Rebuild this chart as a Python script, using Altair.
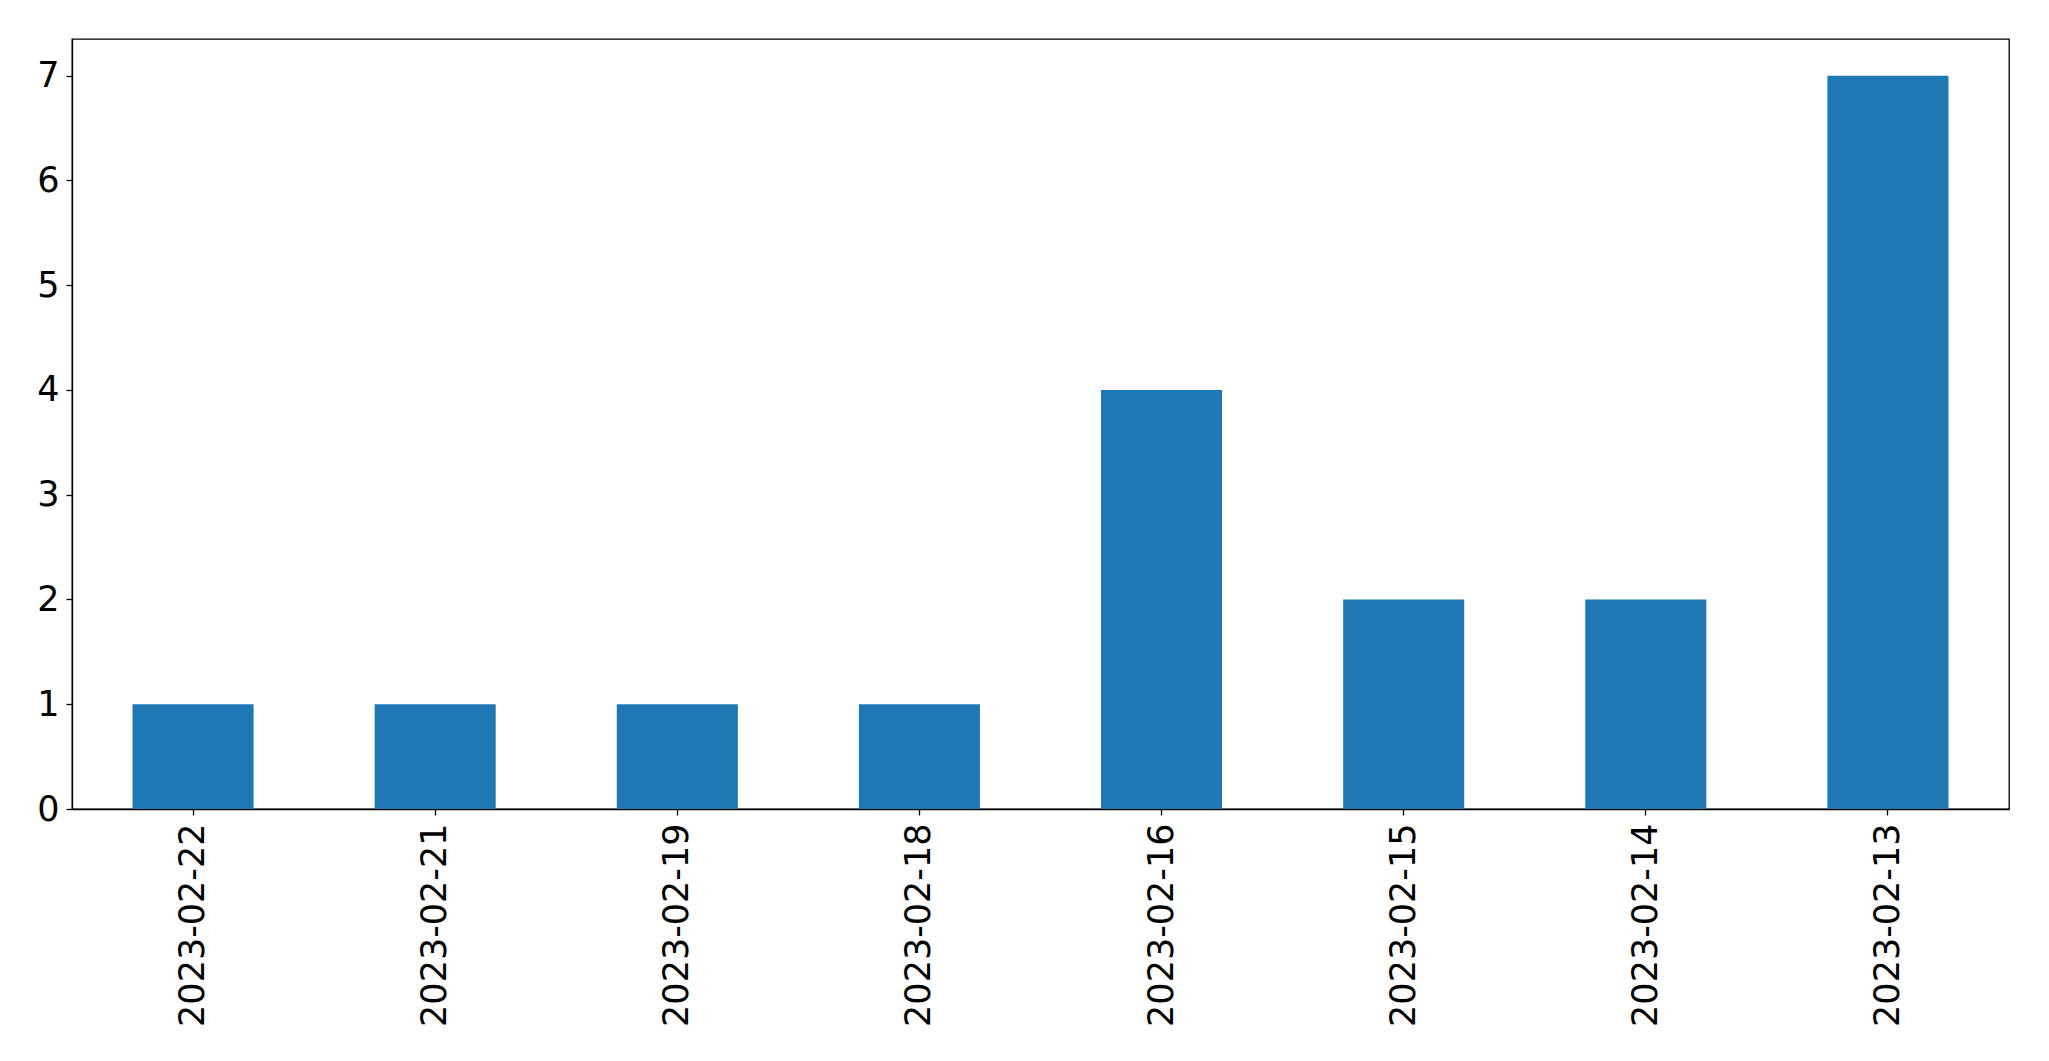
import altair as alt
import pandas as pd

dates = ["2023-02-22", "2023-02-21", "2023-02-19", "2023-02-18",
         "2023-02-16", "2023-02-15", "2023-02-14", "2023-02-13"]
counts = [1, 1, 1, 1, 4, 2, 2, 7]
y_ticks = [0, 1, 2, 3, 4, 5, 6, 7]

df = pd.DataFrame({"date": dates, "count": counts})

font = "DejaVu Sans"

chart = alt.Chart(df).mark_bar(color="#1f77b4").encode(
    x=alt.X("date:N", sort=dates, title=None,
            scale=alt.Scale(paddingInner=0.5, paddingOuter=0.25),
            axis=alt.Axis(labelAngle=270, labelAlign="right", labelBaseline="middle",
                          labelFontSize=35, labelFont=font, labelColor="black",
                          labelLimit=1000,
                          tickSize=6, tickColor="black", tickWidth=1.3,
                          labelPadding=8, domainColor="black", domainWidth=1.3,
                          grid=False)),
    y=alt.Y("count:Q", title=None,
            scale=alt.Scale(domain=[0, 7.35], nice=False),
            axis=alt.Axis(values=y_ticks, format="d", labelFontSize=35, labelFont=font,
                          labelColor="black", tickSize=6, tickColor="black",
                          tickWidth=1.3, labelPadding=7, domainColor="black",
                          domainWidth=1.3, grid=False)),
).properties(
    width=1937, height=770,
    background="white",
    autosize=alt.AutoSizeParams(type="none"),
    padding={"left": 64, "top": 31, "right": 30, "bottom": 240},
).configure_view(stroke="black", strokeWidth=1.3)

chart.save("out.html", embed_options={"renderer": "svg", "actions": False})
